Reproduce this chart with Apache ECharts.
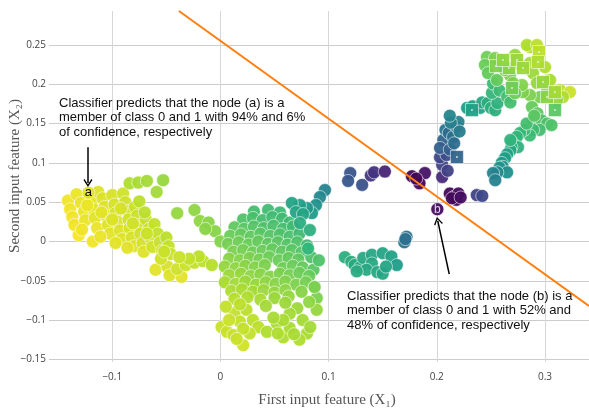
<!DOCTYPE html>
<html>
<head>
<meta charset="utf-8">
<script src="https://cdn.jsdelivr.net/npm/echarts@6/dist/echarts.min.js"></script>
<style>html,body{margin:0;padding:0;background:#fff}#main{width:589px;height:410px}</style>
</head>
<body>
<div id="main"></div>
<script>
// [x1, x2, colour value 0..1 on the viridis scale]
var leftCluster = [
  [-0.141,0.052,0.98],[-0.139,0.041,0.98],[-0.137,0.031,0.98],[-0.135,0.021,0.98],[-0.131,0.008,0.99],
  [-0.133,0.060,0.97],[-0.129,0.049,0.97],[-0.126,0.038,0.97],[-0.125,0.027,0.97],[-0.128,0.015,0.98],
  [-0.119,0.052,0.96],[-0.117,0.041,0.96],[-0.116,0.030,0.96],[-0.114,0.017,0.97],[-0.118,0.000,0.98],
  [-0.113,0.063,0.95],[-0.109,0.055,0.95],[-0.107,0.044,0.95],[-0.106,0.033,0.95],[-0.104,0.021,0.95],[-0.102,0.010,0.96],
  [-0.100,0.059,0.94],[-0.098,0.047,0.94],[-0.097,0.036,0.94],[-0.095,0.025,0.94],[-0.093,0.014,0.95],[-0.091,0.003,0.95],
  [-0.090,0.061,0.93],[-0.088,0.050,0.93],[-0.086,0.039,0.93],[-0.085,0.028,0.93],[-0.084,0.017,0.94],[-0.082,0.005,0.94],[-0.080,-0.006,0.95],
  [-0.079,0.044,0.92],[-0.077,0.033,0.92],[-0.075,0.021,0.93],[-0.074,0.010,0.93],[-0.072,-0.002,0.94],[-0.071,-0.013,0.95],
  [-0.069,0.028,0.92],[-0.066,0.016,0.92],[-0.065,0.005,0.93],[-0.063,-0.007,0.93],
  [-0.061,0.022,0.91],[-0.058,0.010,0.91],[-0.056,-0.001,0.92],[-0.054,-0.012,0.93],
  [-0.050,0.005,0.90],[-0.048,-0.006,0.91],[-0.046,-0.016,0.92],
  [-0.111,0.006,0.97],[-0.097,-0.002,0.96],[-0.086,-0.008,0.96],
  [-0.123,0.046,0.97],[-0.110,0.037,0.96],[-0.092,0.042,0.94],[-0.081,0.023,0.93],[-0.068,0.010,0.92],[-0.100,0.028,0.95],
  [-0.084,0.074,0.88],[-0.076,0.075,0.87],[-0.068,0.077,0.86],[-0.053,0.078,0.84],[-0.059,0.063,0.86],[-0.075,0.051,0.90],[-0.070,0.037,0.90],
  [-0.040,0.036,0.84],[-0.024,0.040,0.83],[-0.019,0.026,0.83],[-0.011,0.024,0.82],[-0.005,0.013,0.82],[0.000,0.000,0.81],[-0.014,0.016,0.82],
  [-0.060,-0.036,0.96],[-0.049,-0.032,0.94],[-0.047,-0.043,0.95],[-0.036,-0.045,0.96],[-0.040,-0.035,0.93],[-0.032,-0.030,0.92],
  [-0.024,-0.027,0.91],[-0.016,-0.025,0.90],[-0.008,-0.030,0.89],[-0.020,-0.019,0.90],[-0.029,-0.022,0.91],[-0.055,-0.022,0.93],
  [-0.052,-0.013,0.92],[-0.038,-0.020,0.92]
];

var midCluster = [
  [0.031,0.038,0.70],[0.044,0.040,0.69],[0.055,0.037,0.68],
  [0.021,0.028,0.72],[0.030,0.030,0.71],[0.039,0.027,0.70],[0.048,0.031,0.69],[0.057,0.029,0.69],[0.064,0.024,0.68],
  [0.013,0.018,0.75],[0.022,0.016,0.74],[0.031,0.019,0.73],[0.040,0.017,0.72],[0.049,0.020,0.71],[0.058,0.016,0.70],[0.067,0.019,0.69],
  [0.009,0.007,0.77],[0.019,0.009,0.76],[0.028,0.006,0.75],[0.037,0.010,0.74],[0.046,0.007,0.73],[0.055,0.009,0.72],[0.064,0.006,0.71],[0.073,0.010,0.69],
  [0.007,-0.003,0.79],[0.017,-0.001,0.78],[0.026,-0.004,0.77],[0.035,0.000,0.76],[0.044,-0.003,0.75],[0.053,-0.001,0.74],[0.062,-0.004,0.73],[0.071,-0.001,0.72],[0.080,-0.005,0.68],
  [0.012,-0.013,0.80],[0.021,-0.011,0.79],[0.030,-0.014,0.78],[0.039,-0.012,0.77],[0.048,-0.010,0.76],[0.057,-0.013,0.75],[0.066,-0.011,0.74],[0.075,-0.014,0.73],
  [0.008,-0.022,0.82],[0.018,-0.024,0.81],[0.027,-0.021,0.80],[0.036,-0.023,0.79],[0.045,-0.020,0.78],[0.054,-0.024,0.77],[0.063,-0.021,0.76],[0.072,-0.023,0.75],[0.084,-0.020,0.72],
  [0.004,-0.032,0.84],[0.014,-0.034,0.83],[0.023,-0.031,0.82],[0.032,-0.033,0.81],[0.041,-0.030,0.80],[0.058,-0.034,0.78],[0.067,-0.031,0.77],[0.076,-0.033,0.76],[0.086,-0.036,0.74],
  [0.008,-0.043,0.85],[0.019,-0.041,0.84],[0.028,-0.044,0.83],[0.037,-0.042,0.82],[0.046,-0.045,0.81],[0.055,-0.041,0.80],[0.064,-0.043,0.79],[0.073,-0.040,0.78],[0.082,-0.044,0.77],
  [0.004,-0.052,0.87],[0.014,-0.054,0.86],[0.023,-0.051,0.85],[0.033,-0.055,0.84],[0.042,-0.052,0.83],[0.051,-0.054,0.82],[0.060,-0.051,0.81],[0.070,-0.055,0.80],[0.079,-0.052,0.79],[0.087,-0.058,0.78],
  [0.010,-0.063,0.88],[0.020,-0.061,0.87],[0.030,-0.064,0.86],[0.040,-0.062,0.85],[0.050,-0.065,0.84],[0.060,-0.062,0.83],[0.075,-0.064,0.82],[0.089,-0.072,0.80],
  [0.013,-0.073,0.89],[0.025,-0.071,0.88],[0.037,-0.074,0.87],[0.050,-0.072,0.85],[0.063,-0.070,0.84],[0.091,-0.024,0.72],
  [0.001,-0.109,0.92],[0.006,-0.115,0.92],[0.012,-0.119,0.92],[0.021,-0.132,0.93],[0.013,-0.091,0.91],[0.018,-0.102,0.91],[0.024,-0.087,0.90],
  [0.030,-0.100,0.90],[0.035,-0.109,0.90],[0.027,-0.117,0.91],[0.018,-0.080,0.90],[0.021,-0.111,0.91],[0.015,-0.124,0.92],[0.008,-0.100,0.92],[0.005,-0.083,0.91],
  [0.043,-0.115,0.88],[0.052,-0.104,0.87],[0.058,-0.122,0.88],[0.064,-0.110,0.87],[0.071,-0.085,0.85],[0.076,-0.100,0.86],[0.080,-0.117,0.87],
  [0.073,-0.125,0.88],[0.089,-0.087,0.84],[0.064,-0.092,0.86],[0.058,-0.100,0.87],[0.049,-0.097,0.87],[0.083,-0.109,0.86],[0.053,-0.117,0.88],
  [0.068,-0.118,0.87],[0.087,-0.058,0.80],[0.082,-0.077,0.83],[0.042,-0.082,0.86],[0.060,-0.078,0.85]
];

var tealTail = [
  [0.0966,0.0654,0.45],[0.092,0.0565,0.47],[0.0883,0.0463,0.50],[0.0846,0.0361,0.55],[0.080,0.0425,0.54],[0.0735,0.0463,0.56],
  [0.066,0.0489,0.58],[0.0698,0.0374,0.58],[0.0763,0.0349,0.58],[0.0735,0.0234,0.62],[0.0827,0.0145,0.63],[0.081,-0.009,0.66]
];

var tealBottom = [
  [0.115,-0.020,0.62],[0.121,-0.026,0.62],[0.124,-0.030,0.61],[0.129,-0.033,0.61],[0.132,-0.021,0.60],[0.140,-0.017,0.59],
  [0.150,-0.015,0.58],[0.158,-0.019,0.57],[0.163,-0.030,0.55],[0.140,-0.028,0.60],[0.135,-0.036,0.60],[0.145,-0.039,0.59],
  [0.150,-0.041,0.59],[0.126,-0.038,0.61],[0.153,-0.032,0.58],
  [0.172,0.006,0.37],[0.170,-0.001,0.38],[0.171,0.003,0.37]
];

var purpleGroup = [
  [0.120,0.087,0.26],[0.118,0.077,0.27],[0.131,0.072,0.25],[0.139,0.084,0.16],[0.142,0.088,0.15],[0.152,0.089,0.10],
  [0.177,0.083,0.02],[0.189,0.087,0.05],[0.184,0.074,0.01],[0.181,0.080,0.02],[0.205,0.082,0.12],
  [0.212,0.061,0.02],[0.216,0.057,0.00],[0.220,0.061,0.03],[0.218,0.053,0.01],[0.214,0.055,0.02],[0.222,0.056,0.04],
  [0.237,0.059,0.20],[0.242,0.058,0.22]
];

var rightLoop = [
  [0.205,0.0975,0.20],[0.203,0.107,0.22],[0.209,0.110,0.24],[0.206,0.129,0.32],[0.208,0.142,0.38],[0.211,0.138,0.36],
  [0.215,0.133,0.37],[0.218,0.146,0.42],[0.220,0.152,0.45],[0.213,0.151,0.43],[0.203,0.119,0.30],[0.212,0.117,0.30],
  [0.210,0.090,0.20],[0.216,0.125,0.36],[0.221,0.140,0.42],[0.212,0.160,0.46],
  [0.228,0.170,0.55],[0.233,0.172,0.57],[0.240,0.170,0.58],[0.242,0.177,0.60],[0.247,0.176,0.62],[0.250,0.170,0.63],
  [0.254,0.167,0.63],[0.256,0.176,0.64],[0.251,0.189,0.66],[0.252,0.201,0.68],[0.258,0.192,0.68],[0.265,0.184,0.70],[0.268,0.177,0.70],
  [0.2464,0.2347,0.78],[0.2445,0.2245,0.77],[0.2473,0.2143,0.76],[0.2556,0.2054,0.76],[0.2676,0.2118,0.79],[0.2861,0.2474,0.88],
  [0.2833,0.2499,0.88],[0.2926,0.2499,0.90],[0.3000,0.2219,0.88],[0.2861,0.2270,0.86],[0.2889,0.2143,0.85],[0.2926,0.2016,0.84],
  [0.3019,0.1927,0.86],[0.3139,0.1927,0.90],[0.3231,0.1901,0.92],[0.3166,0.1838,0.88],[0.3111,0.1799,0.84],[0.2954,0.1838,0.80],
  [0.2861,0.1863,0.80],[0.2797,0.1901,0.80],[0.2788,0.1990,0.81],[0.2704,0.2016,0.80],[0.2723,0.1888,0.78],[0.2585,0.2309,0.81],
  [0.2723,0.2372,0.84],[0.2769,0.2245,0.84],[0.2630,0.2181,0.80],[0.2538,0.2334,0.80],[0.3047,0.2054,0.87],
  [0.288,0.171,0.76],[0.293,0.163,0.75],[0.289,0.154,0.73],[0.297,0.154,0.72],[0.302,0.150,0.72],[0.306,0.148,0.72],
  [0.295,0.142,0.70],[0.289,0.142,0.69],[0.286,0.135,0.68],[0.281,0.142,0.68],[0.277,0.138,0.67],[0.274,0.133,0.66],
  [0.270,0.125,0.64],[0.275,0.120,0.64],[0.269,0.120,0.63],[0.268,0.116,0.60],[0.265,0.111,0.58],[0.263,0.106,0.56],
  [0.260,0.100,0.54],[0.261,0.095,0.52],[0.258,0.094,0.51],[0.265,0.088,0.50],[0.256,0.088,0.48],[0.252,0.087,0.45],
  [0.254,0.078,0.44],[0.268,0.129,0.65],[0.283,0.150,0.70],[0.290,0.160,0.74]
];

var squareNodes = [
  [0.2547,0.2232,0.80],[0.2667,0.2207,0.82],[0.2612,0.2309,0.83],[0.2741,0.2309,0.85],[0.2797,0.2207,0.85],
  [0.2945,0.2411,0.90],[0.2935,0.2283,0.88],[0.2982,0.2029,0.84],[0.3019,0.1838,0.82],[0.2695,0.1952,0.78],
  [0.3092,0.1672,0.74],[0.2325,0.1672,0.57],[0.2186,0.1074,0.32],[0.3092,0.1901,0.86]
];

var nodeA = [-0.122, 0.062, 0.96];
var nodeB = [0.2005, 0.041, 0.03];

// decision boundary and annotation arrows
var boundary = [[-0.0384, 0.2933], [0.3407, -0.0822]];
var arrowA = [[-0.1225, 0.120], [-0.1225, 0.0743]];
var arrowB = [[0.2115, -0.0416], [0.2009, 0.0263]];

var viridis = ['#440154','#482878','#3e4989','#31688e','#26828e','#1f9e89','#35b779','#6ece58','#b5de2b','#fde725'];

var circles = leftCluster.concat(midCluster, tealTail, tealBottom, purpleGroup, rightLoop);

function fmt(v) { return String(v).replace('-', '\u2212'); }

// colour of a point from its third value
function viridisColor(p) {
  var t = Math.max(0, Math.min(1, p.value[2])) * (viridis.length - 1);
  var i = Math.min(viridis.length - 2, Math.floor(t));
  var f = t - i;
  var a = echarts.color.parse(viridis[i]), b = echarts.color.parse(viridis[i + 1]);
  return 'rgb(' + Math.round(a[0] + (b[0] - a[0]) * f) + ',' + Math.round(a[1] + (b[1] - a[1]) * f) + ',' + Math.round(a[2] + (b[2] - a[2]) * f) + ')';
}

var myChart = echarts.init(document.getElementById('main'));
var markerStyle = { color: viridisColor, borderColor: 'rgba(255,255,255,0.75)', borderWidth: 0.8, opacity: 0.95 };

var option = {
  animation: false,
  grid: { left: 49, right: 0, top: 11, bottom: 48, containLabel: false },
  xAxis: {
    type: 'value', min: -0.1585, max: 0.3407, splitNumber: 5,
    axisLine: { show: false }, axisTick: { show: false },
    axisLabel: { showMinLabel: false, showMaxLabel: false, fontFamily: 'Open Sans', fontSize: 10, color: '#444', margin: 10, formatter: fmt },
    splitLine: { showMinLine: false, showMaxLine: false, lineStyle: { color: '#d6d6d6', width: 1 } }
  },
  yAxis: {
    type: 'value', min: -0.1534, max: 0.2933, splitNumber: 9,
    axisLine: { show: false }, axisTick: { show: false },
    axisLabel: { showMinLabel: false, showMaxLabel: false, fontFamily: 'Open Sans', fontSize: 10, color: '#444', margin: 3, formatter: fmt },
    splitLine: { showMinLine: false, showMaxLine: false, lineStyle: { color: '#cccccc', width: 1 } }
  },
  series: [
    {
      type: 'scatter', symbol: 'circle', symbolSize: 13, data: circles,
      itemStyle: markerStyle, silent: true, z: 2
    },
    {
      type: 'scatter', symbol: 'rect', symbolSize: 13, data: squareNodes,
      itemStyle: markerStyle, silent: true, z: 3
    },
    {
      type: 'scatter', symbol: 'circle', symbolSize: 13, silent: true, z: 3,
      itemStyle: markerStyle,
      data: [
        { value: nodeA, label: { show: true, position: 'inside', formatter: 'a', color: '#000', fontSize: 13, fontFamily: 'Liberation Sans' } },
        { value: nodeB, label: { show: true, position: 'inside', formatter: 'b', color: '#e8e0f0', fontSize: 12, fontFamily: 'Liberation Sans' } }
      ]
    },
    {
      type: 'scatter', symbol: 'circle', symbolSize: 2, data: squareNodes, silent: true, z: 4,
      itemStyle: { color: '#f4f4f4' }
    },
    {
      type: 'line', data: boundary, symbol: 'none', silent: true, z: 5,
      lineStyle: { color: '#ff7f0e', width: 2 },
      markLine: {
        silent: true,
        symbol: ['none', 'path://M5,0L10,8.6L8.8,9.6L5,3L1.2,9.6L0,8.6Z'],
        symbolSize: [9, 8],
        lineStyle: { color: '#000', width: 1.5, type: 'solid' },
        label: { show: false },
        data: [
          [{ coord: arrowA[0] }, { coord: arrowA[1] }],
          [{ coord: arrowB[0] }, { coord: arrowB[1] }]
        ]
      }
    }
  ],
  graphic: [
    {
      type: 'text', x: 59, y: 96, z: 10,
      style: {
        text: 'Classifier predicts that the node (a) is a\nmember of class 0 and 1 with 94% and 6%\nof confidence, respectively',
        fontFamily: 'Liberation Sans', fontSize: 13, lineHeight: 14.5, fill: '#111'
      }
    },
    {
      type: 'text', x: 347, y: 289, z: 10,
      style: {
        text: 'Classifier predicts that the node (b) is a\nmember of class 0 and 1 with 52% and\n48% of confidence, respectively',
        fontFamily: 'Liberation Sans', fontSize: 13, lineHeight: 14.5, fill: '#111'
      }
    },
    {
      type: 'text', x: 327, y: 400, z: 10,
      style: { text: 'First input feature (X\u2081)', fontFamily: 'Liberation Serif', fontSize: 15, fill: '#555', align: 'center', verticalAlign: 'middle' }
    },
    {
      type: 'text', x: 15, y: 176, rotation: Math.PI / 2, z: 10,
      style: { text: 'Second input feature (X\u2082)', fontFamily: 'Liberation Serif', fontSize: 15, fill: '#555', align: 'center', verticalAlign: 'middle' }
    }
  ]
};
myChart.setOption(option);
</script>
</body>
</html>
